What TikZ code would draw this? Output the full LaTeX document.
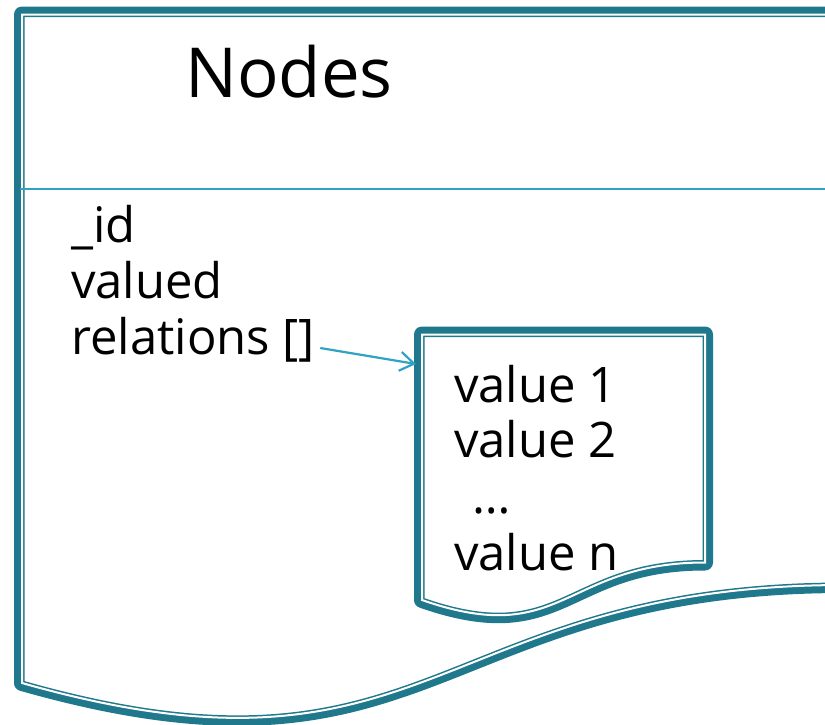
\documentclass[tikz,border=0pt]{standalone}
\usepackage{fontspec}
\setmainfont{Open Sans}
\usetikzlibrary{arrows.meta,calc}
\definecolor{frameteal}{HTML}{1F788C}
\definecolor{linkblue}{HTML}{2EA3C2}

% Thick-thin double outline: the path given is the line between the two strokes;
% a 7pt band is drawn outside it and a 1.5pt band inside, with a 2pt white gap.
\newcommand\compoundframe[1]{%
  \draw[frameteal, line width=16pt, line join=round] #1;
  \fill[white] #1;
  \begin{scope}
    \clip #1;
    \draw[frameteal, line width=5pt] #1;
  \end{scope}
  \draw[white, line width=2pt] #1;
}

\begin{document}
\begin{tikzpicture}[x=1pt, y=-1pt,
  titletext/.style={anchor=base west, inner sep=0pt, font=\fontsize{69}{80}\selectfont},
  fieldtext/.style={anchor=base west, inner sep=0pt, font=\fontsize{49}{56}\selectfont},
  link/.style={draw=linkblue, line width=2.2pt,
    -{Straight Barb[length=14pt, width=19pt, line width=2.2pt]}},
  divider/.style={draw=linkblue, line width=2pt}]
  \useasboundingbox (0,0) rectangle (825,724);
  \clip (0,0) rectangle (825,724);

  % outer "document" shape (runs off the right edge)
  \compoundframe{(22,683) -- (22,14.5) -- (845,14.5) -- (845,585)
    .. controls (433.5,585) and (433.5,800) .. (22,683) -- cycle}

  % separator under the title
  \draw[divider] (20,189) -- (845,189);

  % title and fields
  \node[titletext] (title) at (185,97) {Nodes};
  \node[fieldtext] (id) at (71,242) {\_id};
  \node[fieldtext] (valued) at (71,298) {valued};
  \node[fieldtext] (relations) at (71,354) {relations []};

  % inner "document" shape holding the relation values
  \compoundframe{(422,600) -- (422,334.5) -- (705,334.5) -- (705,562.5)
    .. controls (563.5,562.5) and (563.5,649.4) .. (422,600) -- cycle}

  \node[fieldtext] (v1) at (454,402) {value 1};
  \node[fieldtext] (v2) at (454,457) {value 2};
  \node[fieldtext] (vdots) at (472,513) {…};
  \node[fieldtext] (vn) at (454,570) {value n};

  % link from the relations field to the value list
  \coordinate (listport) at (416,364);
  \draw[link] ($(relations.base east)+(5,-6)$) -- (listport);
\end{tikzpicture}
\end{document}
